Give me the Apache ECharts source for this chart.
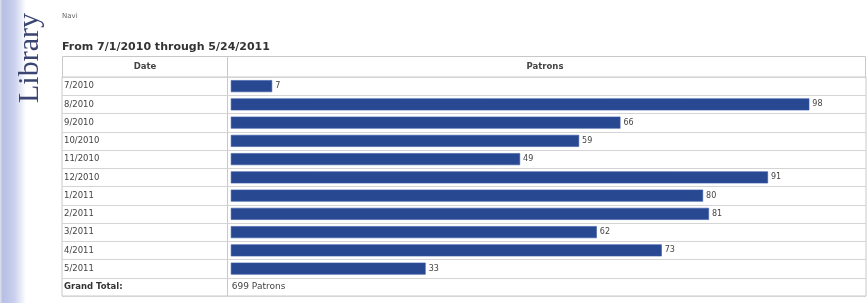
<!DOCTYPE html>
<html>
<head>
<meta charset="utf-8">
<script src="https://cdn.jsdelivr.net/npm/echarts@6/dist/echarts.min.js"></script>
<style>
  html, body { margin: 0; padding: 0; background: #fff; }
  #main { width: 868px; height: 303px; }
</style>
</head>
<body>
<div id="main"></div>
<script>
// data
const months = ['7/2010', '8/2010', '9/2010', '10/2010', '11/2010', '12/2010',
  '1/2011', '2/2011', '3/2011', '4/2011', '5/2011'];
const patrons = [7, 98, 66, 59, 49, 91, 80, 81, 62, 73, 33];
const totalLabel = 'Grand Total:';

const total = patrons.reduce((a, b) => a + b, 0);
const categories = months.concat([totalLabel]);

const chart = echarts.init(document.getElementById('main'), null, { renderer: 'canvas' });

const barData = patrons.map(v => v);
// grand total row: no bar, just the text
barData.push({
  value: 0,
  itemStyle: { color: 'rgba(0,0,0,0)', borderWidth: 0 },
  label: { formatter: total + ' Patrons', fontSize: 9, color: '#444', distance: 1 }
});

const option = {
  backgroundColor: '#fff',
  animation: false,
  grid: {
    left: 62,
    right: 2,
    top: 77,
    height: 219,
    show: true,
    borderColor: '#c8c8c8',
    borderWidth: 1
  },
  xAxis: {
    type: 'value',
    min: -28.6,
    max: 107.6,
    show: false
  },
  yAxis: {
    type: 'category',
    data: categories,
    inverse: true,
    axisLine: { show: false },
    axisTick: { show: false },
    splitLine: { show: true, interval: 0, lineStyle: { color: '#d4d4d4', width: 1 } },
    axisLabel: {
      inside: true,
      margin: 2,
      interval: 0,
      fontFamily: 'DejaVu Sans',
      fontSize: 8.5,
      color: '#444',
      formatter: v => v === totalLabel ? '{b|' + v + '}' : v,
      rich: {
        b: { fontFamily: 'DejaVu Sans', fontSize: 8.5, fontWeight: 'bold', color: '#333' }
      }
    }
  },
  series: [{
    type: 'bar',
    data: barData,
    barWidth: 12,
    itemStyle: {
      color: '#284892',
      borderColor: '#3a5aa6',
      borderWidth: 0.6
    },
    label: {
      show: true,
      position: 'right',
      distance: 3,
      fontFamily: 'DejaVu Sans',
      fontSize: 8,
      color: '#444'
    }
  }],
  graphic: [
    {
      type: 'rect',
      shape: { x: 0, y: 0, width: 26, height: 303 },
      style: {
        fill: new echarts.graphic.LinearGradient(0, 0, 1, 0, [
          { offset: 0, color: '#dfe2ef' },
          { offset: 0.1, color: '#b7bfe4' },
          { offset: 0.55, color: '#c9d0ee' },
          { offset: 1, color: '#ffffff' }
        ])
      },
      silent: true
    },
    {
      type: 'text',
      x: 30,
      y: 58,
      rotation: Math.PI / 2,
      style: {
        text: 'Library',
        font: '30px "Liberation Serif"',
        fill: '#3b4572',
        align: 'center',
        verticalAlign: 'middle'
      }
    },
    {
      type: 'text',
      x: 62,
      y: 16,
      style: { text: 'Navi', font: '7px "DejaVu Sans"', fill: '#666', verticalAlign: 'middle' }
    },
    {
      type: 'text',
      x: 62,
      y: 47,
      style: {
        text: 'From 7/1/2010 through 5/24/2011',
        font: 'bold 11px "DejaVu Sans"',
        fill: '#333',
        verticalAlign: 'middle'
      }
    },
    {
      type: 'rect',
      shape: { x: 62.5, y: 56.5, width: 803, height: 21 },
      style: { fill: 'none', stroke: '#c8c8c8', lineWidth: 1 }
    },
    {
      type: 'line',
      shape: { x1: 227.5, y1: 56.5, x2: 227.5, y2: 296 },
      style: { stroke: '#c8c8c8', lineWidth: 1 }
    },
    {
      type: 'text',
      x: 145,
      y: 67,
      style: { text: 'Date', font: 'bold 8.5px "DejaVu Sans"', fill: '#444', align: 'center', verticalAlign: 'middle' }
    },
    {
      type: 'text',
      x: 545,
      y: 67,
      style: { text: 'Patrons', font: 'bold 8.5px "DejaVu Sans"', fill: '#444', align: 'center', verticalAlign: 'middle' }
    }
  ]
};

chart.setOption(option);
</script>
</body>
</html>
